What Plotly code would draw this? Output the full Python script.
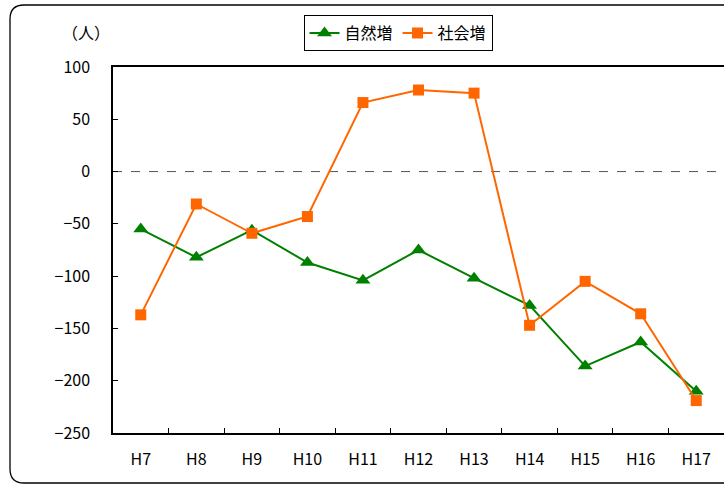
import plotly.graph_objects as go

categories = ["H7", "H8", "H9", "H10", "H11", "H12", "H13", "H14", "H15", "H16", "H17"]
natural_increase = [-55, -82, -56, -87, -104, -75, -102, -128, -186, -163, -210]
social_increase = [-137, -31, -59, -43, 66, 78, 75, -147, -105, -136, -219]
y_ticks = [100, 50, 0, -50, -100, -150, -200, -250]

W, H = 724, 484
L, R, T, B = 113, 0, 67, 51
pw, ph = W - L - R, H - T - B

def px(x):
    return (x - L) / pw

def py(y):
    return (H - B - y) / ph

FONT = "Noto Sans CJK JP, Liberation Sans, sans-serif"

fig = go.Figure()
fig.add_trace(go.Scatter(
    x=categories, y=natural_increase, name="自然増", mode="lines+markers",
    line=dict(color="#008000", width=2),
    marker=dict(symbol="triangle-up", size=13, color="#008000"),
))
fig.add_trace(go.Scatter(
    x=categories, y=social_increase, name="社会増", mode="lines+markers",
    line=dict(color="#FF6600", width=2),
    marker=dict(symbol="square", size=11, color="#FF6600"),
))

# outer rounded frame: right side runs off the image
r = 14
x0, x1, y0, y1 = 10, 724, 5, 483
frame_line = dict(color="black", width=1.3)
shapes = [
    dict(type="line", xref="paper", yref="paper",
         x0=px(x0 + r), x1=px(x1), y0=py(y0), y1=py(y0), line=frame_line),
    dict(type="line", xref="paper", yref="paper",
         x0=px(x0 + r), x1=px(x1), y0=py(y1), y1=py(y1), line=frame_line),
    dict(type="path", xref="paper", yref="paper",
         path=(f"M {px(x0 + r)},{py(y0)} Q {px(x0)},{py(y0)} {px(x0)},{py(y0 + r)} "
               f"L {px(x0)},{py(y1 - r)} Q {px(x0)},{py(y1)} {px(x0 + r)},{py(y1)}"),
         line=frame_line),
    dict(type="line", xref="paper", yref="y", x0=0, x1=1, y0=0, y1=0,
         line=dict(color="#555555", width=1, dash="dash"), layer="below"),
]

fig.update_layout(
    width=W, height=H,
    margin=dict(l=L, r=R, t=T, b=B),
    paper_bgcolor="white", plot_bgcolor="white",
    font=dict(family=FONT, size=16, color="black"),
    showlegend=True,
    legend=dict(
        orientation="h", x=px(398), xanchor="center", y=py(15), yanchor="top",
        bordercolor="black", borderwidth=1, font=dict(size=16),
        itemwidth=30, tracegroupgap=0,
    ),
    shapes=shapes,
    annotations=[dict(text="（人）", xref="paper", yref="paper", x=px(86), y=py(32),
                      xanchor="center", yanchor="middle",
                      showarrow=False, font=dict(size=16))],
    xaxis=dict(
        type="category", range=[-0.5, 10.5],
        showline=True, linecolor="black", linewidth=1.5, mirror=True,
        ticks="inside", ticklen=5, tickson="boundaries", tickcolor="black",
        showgrid=False, zeroline=False, ticklabelstandoff=11,
    ),
    yaxis=dict(
        range=[-250, 100], tickvals=y_ticks,
        showline=True, linecolor="black", linewidth=1.5,
        ticks="inside", ticklen=5, tickcolor="black",
        showgrid=False, zeroline=False, ticklabelstandoff=18,
    ),
)

fig.write_html(
    "out.html",
    config={"displayModeBar": False},
    post_script="document.body.style.margin='0';document.body.style.overflow='hidden';",
)
